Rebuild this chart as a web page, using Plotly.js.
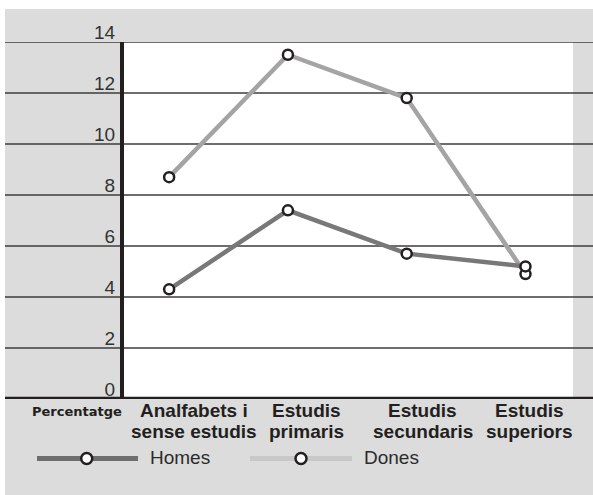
<!DOCTYPE html>
<html>
<head>
<meta charset="utf-8">
<script src="https://cdn.plot.ly/plotly-3.0.1.min.js"></script>
<style>
  html, body { margin: 0; padding: 0; background: #ffffff; }
  #chart { position: absolute; left: 5px; top: 9px; width: 588px; height: 486px; }
</style>
</head>
<body>
<div id="chart"></div>
<script>
// ---- data ----
const categories = ['Analfabets i<br>sense estudis', 'Estudis<br>primaris', 'Estudis<br>secundaris', 'Estudis<br>superiors'];
const homes = [4.3, 7.4, 5.7, 5.2];
const dones = [8.7, 13.5, 11.8, 4.9];
const yTickValues = [0, 2, 4, 6, 8, 10, 12, 14];
const seriesNames = ['Homes', 'Dones'];
const axisLabel = 'Percentatge';

// ---- layout helpers (page pixel -> paper) ----
const OX = 5, OY = 9, W = 588, H = 486;
const L = 124, R = 573, T = 42, B = 398.6;
const px = x => (x - L) / (R - L);
const py = y => (B - y) / (B - T);

const FONT = 'Liberation Sans, Arial, sans-serif';
const colHomes = '#787878', colDones = '#a4a4a4';
const legHomes = '#6e6e6e', legDones = '#c8c8c8';

const markerStyle = { symbol: 'circle', size: 10, color: '#ffffff', line: { color: '#231f20', width: 2.5 } };

const traces = [
  { x: categories, y: dones, name: seriesNames[1], type: 'scatter', mode: 'lines+markers',
    line: { color: colDones, width: 4.5 }, marker: markerStyle, cliponaxis: false },
  { x: categories, y: homes, name: seriesNames[0], type: 'scatter', mode: 'lines+markers',
    line: { color: colHomes, width: 4.5 }, marker: markerStyle, cliponaxis: false }
];

const shapes = [];
yTickValues.forEach(v => {
  if (v === 0) return;
  shapes.push({ type: 'line', xref: 'paper', yref: 'y', x0: -1, x1: 2, y0: v, y1: v,
    line: { color: '#3c3c3c', width: 1.4 }, layer: 'below' });
});
shapes.push({ type: 'line', xref: 'paper', yref: 'y', x0: -1, x1: 2, y0: 0, y1: 0,
  line: { color: '#231f20', width: 4.5 }, layer: 'above' });

// legend (drawn manually)
const legendItems = [
  { name: seriesNames[0], color: legHomes, x0: 37, x1: 138, mx: 86.7, tx: 148 },
  { name: seriesNames[1], color: legDones, x0: 250, x1: 352, mx: 301, tx: 362 }
];
const legY = 458;
const annotations = [];
legendItems.forEach(it => {
  shapes.push({ type: 'line', xref: 'paper', yref: 'paper', x0: px(it.x0), x1: px(it.x1), y0: py(legY), y1: py(legY),
    line: { color: it.color, width: 5 } });
  shapes.push({ type: 'circle', xref: 'paper', yref: 'paper', xsizemode: 'pixel', ysizemode: 'pixel',
    xanchor: px(it.mx), yanchor: py(legY), x0: -5.5, x1: 5.5, y0: -5.5, y1: 5.5,
    fillcolor: '#ffffff', line: { color: '#231f20', width: 2.5 } });
  annotations.push({ xref: 'paper', yref: 'paper', x: px(it.tx), y: py(legY - 1), xanchor: 'left', yanchor: 'middle',
    text: it.name, showarrow: false, font: { family: FONT, size: 19, color: '#2b2b2b' } });
});

// category labels
const labelShift = [25, 19, 16, 4];
categories.forEach((c, i) => {
  const lines = c.split('<br>');
  lines.forEach((ln, j) => {
    annotations.push({ xref: 'x', yref: 'paper', x: i, xshift: labelShift[i], y: py(410 + 21 * j), yanchor: 'middle',
      xanchor: 'center', text: '<b>' + ln + '</b>', showarrow: false,
      font: { family: FONT, size: 19, color: '#231f20' } });
  });
});

annotations.push({ xref: 'paper', yref: 'paper', x: px(77), y: py(411), xanchor: 'center', yanchor: 'middle',
  text: '<b>' + axisLabel + '</b>', showarrow: false,
  font: { family: 'DejaVu Sans, sans-serif', size: 13, color: '#231f20' } });

const layout = {
  width: W, height: H,
  margin: { l: L - OX, r: W - (R - OX), t: T - OY, b: H - (B - OY), pad: 0 },
  paper_bgcolor: '#dcdcdc',
  plot_bgcolor: '#ffffff',
  showlegend: false,
  xaxis: { type: 'category', range: [-0.38, 3.4], showticklabels: false, showgrid: false, zeroline: false,
    showline: false, ticks: '', fixedrange: true },
  yaxis: { range: [0, 14], tickvals: yTickValues, ticktext: yTickValues.map(String), showgrid: false,
    zeroline: false, showline: true, linecolor: '#231f20', linewidth: 4, ticks: '',
    ticklabelshift: -10, ticklabelstandoff: 1,
    tickfont: { family: FONT, size: 19, color: '#333333' }, fixedrange: true },
  shapes: shapes,
  annotations: annotations,
  font: { family: FONT }
};

Plotly.newPlot('chart', traces, layout, { displayModeBar: false, staticPlot: true });
</script>
</body>
</html>
